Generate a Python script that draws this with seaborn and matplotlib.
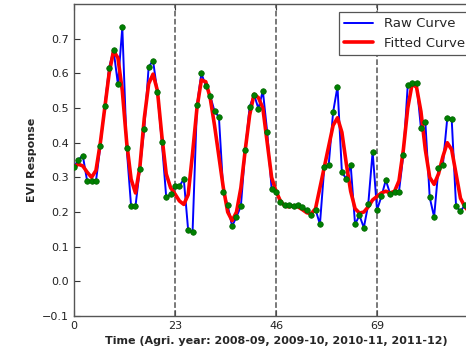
import numpy as np
import pandas as pd
import matplotlib
matplotlib.use('Agg')
import matplotlib.pyplot as plt
import seaborn as sns

# raw EVI values, one per composite (23 per agricultural year)
raw_evi = [
    0.33, 0.351, 0.363, 0.289, 0.289, 0.289, 0.39, 0.507, 0.617, 0.668,
    0.569, 0.733, 0.384, 0.217, 0.217, 0.325, 0.44, 0.619, 0.637, 0.545,
    0.402, 0.243, 0.251, 0.275, 0.275, 0.295, 0.147, 0.143, 0.508, 0.60,
    0.565, 0.536, 0.491, 0.474, 0.258, 0.219, 0.159, 0.186, 0.217, 0.38,
    0.504, 0.539, 0.498, 0.55, 0.43, 0.267, 0.258, 0.23, 0.219, 0.219,
    0.218, 0.219, 0.215, 0.205, 0.19, 0.207, 0.165, 0.33, 0.336, 0.488,
    0.562, 0.315, 0.296, 0.336, 0.165, 0.19, 0.155, 0.222, 0.374, 0.206,
    0.245, 0.292, 0.252, 0.259, 0.259, 0.366, 0.567, 0.571, 0.571, 0.443,
    0.461, 0.242, 0.186, 0.327, 0.337, 0.471, 0.469, 0.217, 0.202, 0.22,
    0.23, 0.25,
]

fitted_evi = [
    0.33, 0.338, 0.333, 0.315, 0.30, 0.32, 0.40, 0.50, 0.60, 0.665,
    0.645, 0.55, 0.40, 0.295, 0.255, 0.33, 0.47, 0.57, 0.598, 0.55,
    0.42, 0.31, 0.27, 0.252, 0.232, 0.222, 0.25, 0.37, 0.50, 0.581,
    0.576, 0.53, 0.45, 0.36, 0.27, 0.20, 0.175, 0.20, 0.27, 0.38,
    0.48, 0.54, 0.53, 0.50, 0.40, 0.30, 0.26, 0.232, 0.217, 0.215,
    0.218, 0.215, 0.207, 0.198, 0.195, 0.21, 0.27, 0.33, 0.39, 0.45,
    0.472, 0.43, 0.34, 0.26, 0.21, 0.197, 0.20, 0.215, 0.235, 0.245,
    0.255, 0.26, 0.255, 0.26, 0.29, 0.38, 0.50, 0.57, 0.56, 0.49,
    0.38, 0.30, 0.28, 0.31, 0.36, 0.40, 0.38, 0.31, 0.24, 0.215,
    0.20, 0.20,
]

year_breaks = [23, 46, 69]
x_ticks = [0, 23, 46, 69]
y_ticks = [-0.1, 0.0, 0.1, 0.2, 0.3, 0.4, 0.5, 0.6, 0.7]

df = pd.DataFrame({
    'time': np.arange(len(raw_evi)),
    'raw': raw_evi,
    'fitted': fitted_evi,
})

sns.set_style('ticks')
plt.rcParams['font.family'] = ['DejaVu Sans']
plt.rcParams['xtick.direction'] = 'in'
plt.rcParams['ytick.direction'] = 'in'
plt.rcParams['xtick.top'] = True
plt.rcParams['ytick.right'] = True

fig = plt.figure(figsize=(4.66, 3.52), dpi=100)
ax = fig.add_axes([0.1588, 0.1023, 0.867, 0.886])

for xb in year_breaks:
    ax.axvline(xb, color='#555555', linestyle='--', linewidth=1.1, zorder=1)

sns.lineplot(data=df, x='time', y='raw', ax=ax, color='blue', linewidth=1.4,
             label='Raw Curve', zorder=2)
sns.lineplot(data=df, x='time', y='fitted', ax=ax, color='red', linewidth=2.6,
             label='Fitted Curve', zorder=3)
sns.scatterplot(data=df, x='time', y='raw', ax=ax, color='green', s=16,
                edgecolor='#006400', linewidth=0.5, zorder=4, legend=False)

ax.set_xlim(0, 92)
ax.set_ylim(-0.1, 0.8)
ax.set_xticks(x_ticks)
ax.set_yticks(y_ticks)
ax.tick_params(labelsize=8, length=4, colors='#333333', labelcolor='#222222')
for sp in ax.spines.values():
    sp.set_color('#555555')
    sp.set_linewidth(1.0)

ax.set_xlabel('Time (Agri. year: 2008-09, 2009-10, 2010-11, 2011-12)',
              fontsize=8, fontweight='bold')
ax.set_ylabel('EVI Response', fontsize=8, fontweight='bold')

leg = ax.legend(loc='upper right', fontsize=9.5, fancybox=False,
                framealpha=1, edgecolor='#555555', borderaxespad=0.6,
                handlelength=2.2)
leg.get_frame().set_linewidth(0.9)

fig.savefig('out.png', dpi=100)
